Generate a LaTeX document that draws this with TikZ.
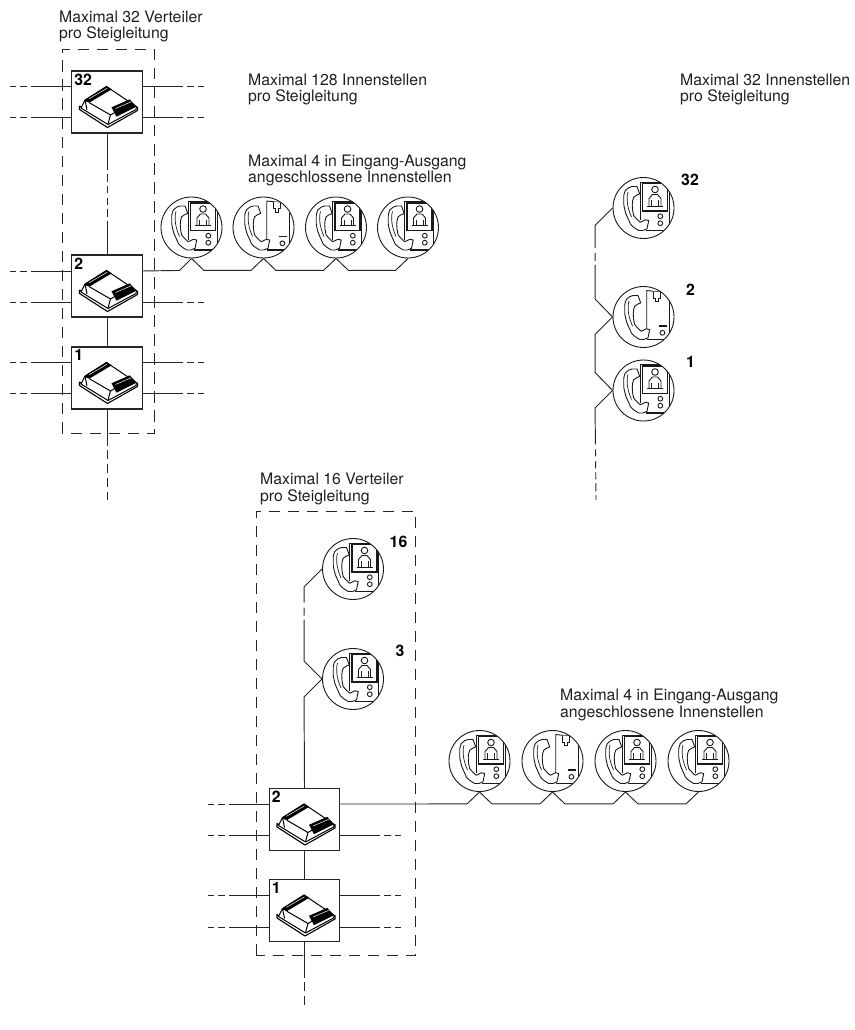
\documentclass[tikz,border=0pt]{standalone}
\usepackage{fontspec}
\setmainfont{TeX Gyre Heros}
\usetikzlibrary{calc}
\newcommand{\labelfont}{\fontsize{15.8}{16.4}\selectfont}
\newcommand{\numberfont}{\fontsize{15.8}{16}\selectfont\bfseries}
\begin{document}
\begin{tikzpicture}
[x=1pt,y=-1pt,
  boxdecorate/.style={shape=rectangle,draw=black!85,line width=1.2pt,minimum width=70.5pt,minimum height=62pt,inner sep=0pt},%
  phonedecorate/.style={shape=circle,draw=black!90,line width=0.9pt,minimum size=61pt,inner sep=0pt},%
  linedecorate/.style={-,line width=0.95pt,draw=black!85},%
  sidedecorate/.style={linedecorate,dash pattern=on 40pt off 4pt on 7pt off 4pt on 6pt off 20pt},%
  taildecorate/.style={linedecorate,dash pattern=on 36pt off 4pt on 9pt off 5pt on 9pt off 5pt on 9pt off 5pt on 10pt off 20pt},%
  framedecorate/.style={-,line width=0.95pt,draw=black!85,dash pattern=on 11.5pt off 7.5pt},%
  textdecorate/.style={anchor=north west,inner sep=0pt,align=left,font=\labelfont,text=black!88},%
  numberdecorate/.style={inner sep=0pt,font=\numberfont,text=black},%
  iconline/.style={line width=0.9pt,draw=black!90},%
  handset/.pic={
    \draw[iconline,fill=white] (-6.5,-21.5) -- (-3.8,-14.2)
      .. controls (-6,-13) and (-9,-12) .. (-9.8,-10.8)
      .. controls (-11.5,-7) and (-12,-1) .. (-9.8,7.5)
      .. controls (-8,10) and (-5,13) .. (-3.2,14.2)
      -- (1.8,11.8) -- (5.2,12.5) -- (3.5,20.8)
      .. controls (1,22.5) and (-2,23) .. (-4.8,22.5)
      .. controls (-9,20) and (-12,18) .. (-13.2,15.8)
      .. controls (-16,9) and (-18,6) .. (-18.5,2.5)
      .. controls (-20,-3) and (-20,-6) .. (-19.8,-9.2)
      .. controls (-20,-13) and (-19,-16) .. (-18.2,-17.5)
      .. controls (-16,-20) and (-14,-21) .. (-11.5,-21.5) -- cycle;
    \draw[line width=0.7pt,draw=black!88] (-15.5,-16) .. controls (-17.5,-9) and (-16,0) .. (-12,9);
  },
  videophone/.pic={
    \draw[iconline] (-3.3,12) -- (-3.3,-26) -- (25.8,-26) -- (25.8,16);
    \draw[line width=1.5pt,draw=black!90] (-1,-24.3) rectangle (24,3.2);
    \draw[line width=1.3pt,draw=black!90] (2,22.6) -- (20,22.6);
    \pic at (0,0) {handset};
    \draw[iconline] (11.5,-18.5) circle (3.3pt);
    \draw[iconline] (5.5,-2) -- (5.5,-9.5) -- (9,-13.5) -- (14,-13.5) -- (17.5,-9.5) -- (17.5,-2);
    \draw[line width=0.7pt,draw=black!88] (8,-2) -- (8,-8) (15,-2) -- (15,-8);
    \draw[line width=1.3pt,draw=black!90] (3.5,-1.7) -- (19.5,-1.7);
    \draw[iconline] (16.8,8.2) circle (2.4pt) (16.8,15.2) circle (2.4pt);
  },
  audiophone/.pic={
    \draw[iconline] (3.2,-27) -- (3.2,21) (3.2,-26.5) -- (17,-25);
    \draw[iconline] (25.6,-15) -- (25.6,16);
    \draw[line width=1.3pt,draw=black!90] (3,22.6) -- (20,22.6);
    \pic at (1,0) {handset};
    \draw[iconline,fill=white] (10,-25.5) -- (10,-19) -- (12,-19) -- (12,-15.5) -- (15,-15.5) -- (15,-19) -- (17,-19) -- (17,-25);
    \draw[line width=1.8pt,draw=black!90] (15,9) -- (23,9);
    \draw[iconline] (18.9,15.8) circle (2.4pt);
  },
  verteiler/.pic={
    \draw[line width=1.1pt,draw=black,fill=white,line join=round] (-27.5,4) -- (-27.5,7.5) -- (0.5,25.5) -- (30.5,8.5) -- (30.5,5) -- (0.5,21) -- cycle;
    \draw[line width=1pt,draw=black,fill=white,line join=round] (-22,-2) -- (-0.5,-15.5) -- (29.5,4.7) -- (29,7.5) -- (1,22.5) -- (-26,6) -- cycle;
    \draw[line width=1pt,draw=black] (-17.7,0.7) -- (3.5,13) -- (1,22) (3.5,13) -- (9.5,9.5) (-22,-2) -- (-20,8);
    \fill[black] (-23,-1.3) -- (-0.3,-16) -- (4.7,-12.7) -- (-17.7,0.7) -- cycle;
    \draw[line width=0.5pt,draw=white] (-18,-3.2) -- (0,-13.7);
    \fill[black] (4.5,5.3) -- (22.8,-2.7) -- (29.5,4.7) -- (9.5,14.7) -- cycle;
    \draw[line width=0.5pt,draw=white] (8.5,6.5) -- (24.5,-0.3);
  }]
\useasboundingbox (0,0) rectangle (854,1030);
%% boxes or distributors
\foreach \nodename/\x/\y/\txt in {v32/107/102/32, v2/107/286/2, v1/107/378/1, w2/304.5/819.5/2, w1/304.5/910.5/1} {
  \node (\nodename) at (\x,\y) [boxdecorate] {};
  \pic at (\x,\y) {verteiler};
  \node (\nodename n) [numberdecorate,anchor=north west] at ($(\nodename.north west)+(3,3)$) {\txt};
}
%% phones
\foreach \nodename/\x/\y/\kind in {a1/191.5/227.5/videophone, a2/263.5/227.5/audiophone, a3/336/227.5/videophone, a4/408/227.5/videophone,
  r32/643.5/208/videophone, r2/643.5/317/audiophone, r1/643.5/390.5/videophone,
  s16/353/569/videophone, s3/353/679/videophone,
  b1/479.5/761/videophone, b2/552.5/761/audiophone, b3/625.5/761/videophone, b4/698.5/761/videophone} {
  \begin{scope}
    \clip (\x,\y) circle (30.5pt);
    \pic at (\x,\y) {\kind};
  \end{scope}
  \node (\nodename) at (\x,\y) [phonedecorate] {};
}
%% side lines
\foreach \nodename/\ya/\yb in {v32/86/117, v2/271/302, v1/362/393, w2/804/835, w1/895/927} {
  \coordinate (\nodename la) at (0,\ya);
  \coordinate (\nodename lb) at (0,\yb);
  \draw[sidedecorate] (\nodename.west |- \nodename lb) -- ++(-61,0);
  \draw[sidedecorate] (\nodename.west |- \nodename la) -- ++(-61,0);
  \draw[sidedecorate] (\nodename.east |- \nodename lb) -- ++(61,0);
}
\foreach \nodename in {v32,v1,w1} {
  \draw[sidedecorate] (\nodename.east |- \nodename la) -- ++(61,0);
}
%% riser lines
\draw[linedecorate,dash pattern=on 36pt off 4pt on 8pt off 4pt on 7pt off 5pt on 7pt off 4pt on 8pt off 4pt on 60pt] (v32.south) -- (v2.north);
\draw[linedecorate] (v2.south) -- (v1.north);
\draw[linedecorate] (w2.south) -- (w1.north);
\coordinate (vtail) at (107,500);
\coordinate (wtail) at (304.5,1010);
\coordinate (rtail) at (596,500);
\draw[taildecorate] (v1.south) -- (vtail);
\draw[taildecorate] (w1.south) -- (wtail);
%% wires between phones
\draw[linedecorate] (v2.east |- v2la) -- ($(a1.south)+(-12,12)$) -- (a1.south);
\draw[linedecorate] (w2.east |- w2la) -- ($(b1.south)+(-12.5,12)$) -- (b1.south);
\path
\foreach \startnode/\endnode in {a1/a2, a2/a3, a3/a4, b1/b2, b2/b3, b3/b4} {
  (\startnode.south) edge[linedecorate,to path={-- ++(12.5,12) -- ($(\tikztotarget)+(-12.5,12)$) -- (\tikztotarget)}] (\endnode.south)
};
\draw[linedecorate,dash pattern=on 47pt off 5pt on 8pt off 4pt on 100pt] (r32.west) -- ++(-17.5,17.5) -- ($(r2.west)+(-17.5,-18)$) -- (r2.west);
\draw[linedecorate] (r2.west) -- ++(-17.5,17.5) -- ($(r1.west)+(-17.5,-18)$) -- (r1.west);
\draw[linedecorate,dash pattern=on 61pt off 5pt on 7pt off 5pt on 7pt off 4pt on 7pt off 4pt on 8pt off 4pt on 5pt off 20pt] (r1.west) -- ++(-17.5,17.5) -- (rtail);
\draw[linedecorate,dash pattern=on 41pt off 5pt on 8pt off 4pt on 100pt] (s16.west) -- ++(-18,18) -- ($(s3.west)+(-18,-18)$) -- (s3.west);
\draw[linedecorate] (s3.west) -- ++(-18,18) -- (w2.north);
%% dashed frames
\coordinate (fa) at (62,49.5);
\coordinate (fb) at (154,433);
\coordinate (fc) at (256,511.5);
\coordinate (fd) at (415.5,955);
\draw[framedecorate] (fa |- fb) -- (fa) -- (fb |- fa) -- (fb) -- cycle;
\draw[framedecorate] (fc |- fd) -- (fc) -- (fd |- fc) -- (fd) -- cycle;
%% labels
\node (ta) [textdecorate] at (59,10.5) {Maximal 32 Verteiler\\pro Steigleitung};
\node (tb) [textdecorate] at (248,73.5) {Maximal 128 Innenstellen\\pro Steigleitung};
\node (tc) [textdecorate] at (680,73.5) {Maximal 32 Innenstellen\\pro Steigleitung};
\node (td) [textdecorate] at (248,154.5) {Maximal 4 in Eingang-Ausgang\\angeschlossene Innenstellen};
\node (te) [textdecorate] at (260,473) {Maximal 16 Verteiler\\pro Steigleitung};
\node (tf) [textdecorate] at (560,689) {Maximal 4 in Eingang-Ausgang\\angeschlossene Innenstellen};
%% phone numbers
\foreach \nodename/\x/\y/\txt in {n32/690/180/32, n2/690.5/290/2, n1/690.5/362/1, n16/398.5/542/16, n3/400/651/3} {
  \node (\nodename) [numberdecorate] at (\x,\y) {\txt};
}
\end{tikzpicture}
\end{document}
